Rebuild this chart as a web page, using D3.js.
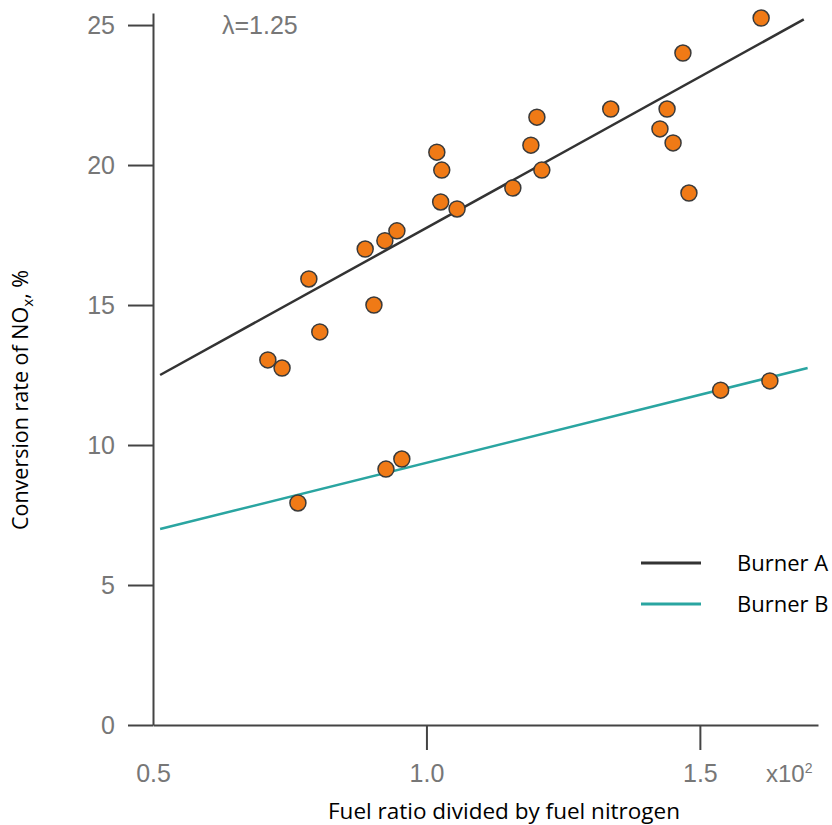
<!DOCTYPE html>
<html lang="en">
<head>
    <meta charset="UTF-8">
    <title>NOx conversion vs fuel ratio</title>
    <script src="https://d3js.org/d3.v7.min.js"></script>
    <style>
        body { margin: 0; background: #fff; }
        svg { display: block; }
    </style>
</head>
<body>
    <div id="chart"></div>
    <script>
        // measured points (x in units of 10^2)
        const burnerAx = [0.710, 0.736, 0.785, 0.805, 0.888, 0.904, 0.924, 0.946, 1.019, 1.026, 1.028, 1.056,
                          1.158, 1.191, 1.202, 1.211, 1.337, 1.427, 1.440, 1.451, 1.469, 1.480, 1.612];
        const burnerAy = [13.04, 12.75, 15.93, 14.04, 17.0, 15.0, 17.3, 17.65, 20.46, 18.68, 19.82, 18.43,
                          19.18, 20.71, 21.71, 19.82, 22.0, 21.29, 22.0, 20.79, 24.0, 19.0, 25.25];
        const burnerBx = [0.765, 0.926, 0.955, 1.538, 1.628];
        const burnerBy = [7.93, 9.14, 9.5, 11.96, 12.29];

        // fitted lines, start and end
        const fitAx = [0.513, 1.690];
        const fitAy = [12.5, 25.2];
        const fitBx = [0.513, 1.697];
        const fitBy = [7.0, 12.75];

        const xTicks = [0.5, 1.0, 1.5];
        const yTicks = [0, 5, 10, 15, 20, 25];
        const seriesNames = ["Burner A", "Burner B"];
        const seriesColors = ["#333333", "#2aa5a1"];

        const width = 832, height = 825;
        const svg = d3.select("#chart").append("svg")
            .attr("width", width)
            .attr("height", height);

        const x = d3.scaleLinear().domain([0.5, 1.716]).range([153, 818]);
        const y = d3.scaleLinear().domain([0, 25.43]).range([725, 13]);

        const tickFont = "'Liberation Sans', Arial, sans-serif";
        const labelFont = "'Open Sans', sans-serif";
        const tickColor = "#777";

        // y axis
        const yAxis = svg.append("g")
            .attr("transform", `translate(${x(0.5)},0)`)
            .call(d3.axisLeft(y).tickValues(yTicks).tickSize(25).tickPadding(13).tickSizeOuter(0));

        // x axis
        const xAxis = svg.append("g")
            .attr("transform", `translate(0,${y(0)})`)
            .call(d3.axisBottom(x).tickValues(xTicks).tickFormat(d3.format(".1f"))
                .tickSize(25).tickPadding(14).tickSizeOuter(0));
        xAxis.selectAll(".tick").filter(d => d === 0.5).select("line").remove();

        [xAxis, yAxis].forEach(g => {
            g.select(".domain").attr("stroke", "#444").attr("stroke-width", 2);
            g.selectAll(".tick line").attr("stroke", "#444").attr("stroke-width", 2);
            g.selectAll(".tick text")
                .attr("fill", tickColor)
                .style("font-family", tickFont)
                .style("font-size", "25px");
        });

        // x10^2 multiplier
        const mult = svg.append("text")
            .attr("x", 766).attr("y", y(0) + 39 + 18)
            .attr("fill", tickColor)
            .style("font-family", tickFont)
            .style("font-size", "24px");
        mult.append("tspan").text("x10");
        mult.append("tspan").attr("dy", -9).style("font-size", "14px").text("2");

        // lambda note
        svg.append("text")
            .attr("x", 222).attr("y", 34)
            .attr("fill", tickColor)
            .style("font-family", tickFont)
            .style("font-size", "25px")
            .text("λ=1.25");

        // fit lines
        const line = d3.line().x(d => x(d[0])).y(d => y(d[1]));
        svg.append("path")
            .datum(d3.zip(fitAx, fitAy))
            .attr("d", line)
            .attr("fill", "none")
            .attr("stroke", seriesColors[0])
            .attr("stroke-width", 2.5);
        svg.append("path")
            .datum(d3.zip(fitBx, fitBy))
            .attr("d", line)
            .attr("fill", "none")
            .attr("stroke", seriesColors[1])
            .attr("stroke-width", 2.5);

        // points
        const pts = d3.zip(burnerAx, burnerAy).concat(d3.zip(burnerBx, burnerBy));
        svg.append("g").selectAll("circle")
            .data(pts)
            .join("circle")
            .attr("cx", d => x(d[0]))
            .attr("cy", d => y(d[1]))
            .attr("r", 8)
            .attr("fill", "#f07a16")
            .attr("stroke", "#3a3a3a")
            .attr("stroke-width", 1.5);

        // legend
        const legend = svg.append("g");
        seriesNames.forEach((name, i) => {
            const ly = 563 + i * 41;
            legend.append("line")
                .attr("x1", 641).attr("x2", 701)
                .attr("y1", ly).attr("y2", ly)
                .attr("stroke", seriesColors[i])
                .attr("stroke-width", 3);
            legend.append("text")
                .attr("x", 737).attr("y", ly + 8)
                .attr("fill", "#000")
                .style("font-family", labelFont)
                .style("font-size", "22px")
                .text(name);
        });

        // axis titles
        svg.append("text")
            .attr("x", 504).attr("y", 819)
            .attr("text-anchor", "middle")
            .attr("fill", "#000")
            .style("font-family", labelFont)
            .style("font-size", "22.5px")
            .text("Fuel ratio divided by fuel nitrogen");

        const yt = svg.append("text")
            .attr("transform", "translate(28,400) rotate(-90)")
            .attr("text-anchor", "middle")
            .attr("fill", "#000")
            .style("font-family", labelFont)
            .style("font-size", "21.5px");
        yt.append("tspan").text("Conversion rate of NO");
        yt.append("tspan").attr("dy", 5).style("font-size", "15px").text("x");
        yt.append("tspan").attr("dy", -5).text(", %");
    </script>
</body>
</html>
